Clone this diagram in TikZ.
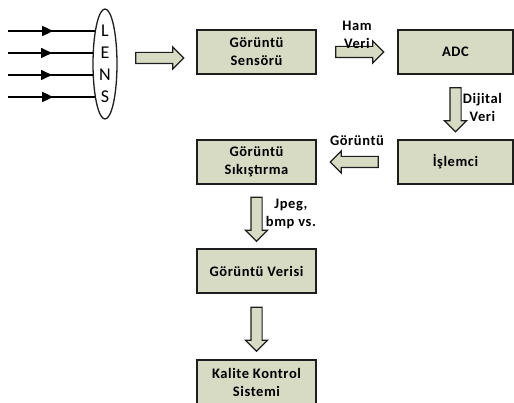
\documentclass[tikz,border=0pt]{standalone}
\usepackage{fontspec}
\setmainfont{Carlito}
\newfontfamily\boxfont[LetterSpace=4]{Carlito}
\usetikzlibrary{shapes,arrows.meta,positioning,calc,decorations.markings}
\definecolor{boxfill}{RGB}{215,219,195}
\definecolor{edge}{RGB}{30,30,30}

\begin{document}
\begin{tikzpicture}[x=1pt,y=-1pt,
    box/.style={draw=edge, line width=1.3pt, fill=boxfill, minimum height=44pt, align=center, font=\boxfont\bfseries\fontsize{14.5}{18}\selectfont},
    bigarrow/.style={single arrow, draw=edge, line width=1.2pt, fill=boxfill, minimum width=21pt, inner sep=5pt, single arrow head extend=5.5pt},
    lbl/.style={font=\boxfont\bfseries\fontsize{14.5}{18}\selectfont, align=center, inner sep=1pt},
    ray/.style={line width=1.6pt, postaction={decorate}, decoration={markings, mark=at position 0.52 with {\arrow{Triangle[length=11pt,width=10pt]}}}}
]
    \useasboundingbox (0,0) rectangle (514,403);

    % Lens
    \node[draw=edge, ellipse, line width=1.3pt, minimum width=24pt, minimum height=110pt, inner sep=0pt] (lens) at (105,64) {};
    \node[font=\fontsize{18}{22}\selectfont, align=center, inner sep=0pt] (lenstext) at (105,64) {L\\E\\N\\S};

    % Incoming rays
    \coordinate (r1) at (8,31);
    \coordinate (r2) at (8,53);
    \coordinate (r3) at (8,75);
    \coordinate (r4) at (8,97);
    \draw[ray] (r1) -- (r1 -| lens.107);
    \draw[ray] (r2) -- (r2 -| lens.137);
    \draw[ray] (r3) -- (r3 -| lens.223);
    \draw[ray] (r4) -- (r4 -| lens.253);

    % Blocks
    \node[box, minimum width=119pt] (sensor) at (256.5,52) {Görüntü\\Sensörü};
    \node[box, minimum width=115pt] (adc) at (455.5,52) {ADC};
    \node[box, minimum width=115pt] (islemci) at (455.5,162) {İşlemci};
    \node[box, minimum width=119pt] (sikistirma) at (256.5,162) {Görüntü\\Sıkıştırma};
    \node[box, minimum width=119pt] (verisi) at (256.5,271) {Görüntü Verisi};
    \node[box, minimum width=119pt] (kalite) at (256.5,382) {Kalite Kontrol\\Sistemi};

    % Block arrows
    \node[bigarrow, minimum height=48pt] (a1) at ($(lens.east)!0.5!(sensor.west)$) {};
    \node[bigarrow, minimum height=48pt] (a2) at ($(sensor.east)!0.5!(adc.west)$) {};
    \node[bigarrow, minimum height=44pt, shape border rotate=270] (a3) at ($(adc.south)!0.5!(islemci.north)$) {};
    \node[bigarrow, minimum height=48pt, shape border rotate=180] (a4) at ($(islemci.west)!0.5!(sikistirma.east)$) {};
    \node[bigarrow, minimum height=44pt, shape border rotate=270] (a5) at ($(sikistirma.south)!0.5!(verisi.north)$) {};
    \node[bigarrow, minimum height=44pt, shape border rotate=270] (a6) at ($(verisi.south)!0.5!(kalite.north)$) {};

    % Arrow labels
    \node[lbl, above=-4pt of a2] (hamveri) {Ham\\Veri};
    \node[lbl, right=0pt of a3] (dijital) {Dijital\\Veri};
    \node[lbl, above=9pt of a4] (goruntu) {Görüntü};
    \node[lbl, right=2pt of a5, yshift=3pt] (jpeg) {Jpeg,\\bmp vs.};
\end{tikzpicture}
\end{document}
